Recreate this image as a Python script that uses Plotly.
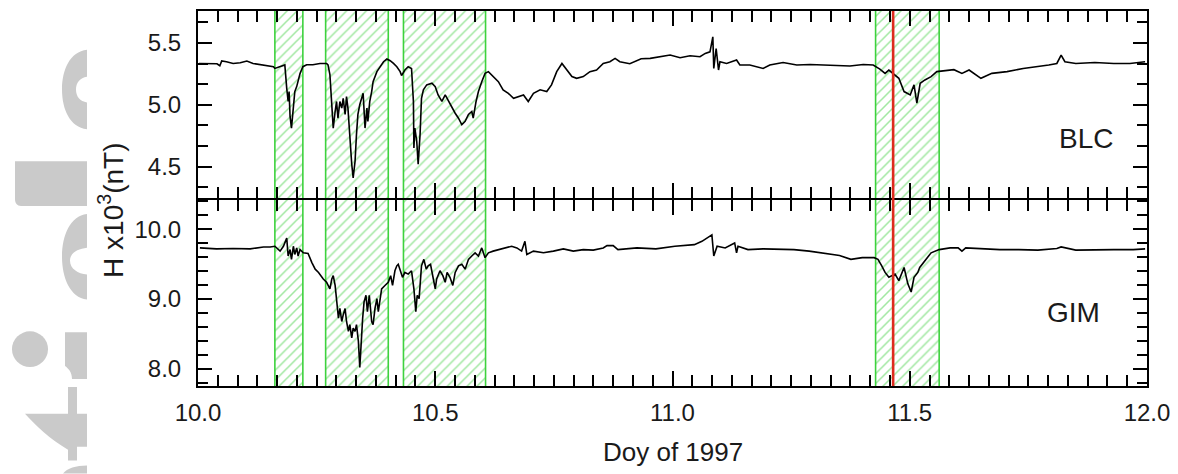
import re
import plotly.graph_objects as go

# ---------------- data ----------------
blc_day = [10.002, 10.025, 10.040, 10.046, 10.050, 10.060, 10.074, 10.089, 10.103, 10.116,
           10.131, 10.145, 10.159, 10.162, 10.173, 10.183, 10.187, 10.190, 10.192, 10.194,
           10.197, 10.200, 10.204, 10.208, 10.211, 10.215, 10.221, 10.229, 10.242, 10.257,
           10.271, 10.274, 10.278, 10.282, 10.285, 10.289, 10.292, 10.295, 10.299, 10.303,
           10.306, 10.310, 10.313, 10.316, 10.320, 10.324, 10.327, 10.331, 10.334, 10.337,
           10.341, 10.345, 10.348, 10.352, 10.356, 10.358, 10.362, 10.366, 10.369, 10.377,
           10.384, 10.391, 10.398, 10.405, 10.412, 10.419, 10.426, 10.429, 10.436, 10.443,
           10.450, 10.454, 10.455, 10.457, 10.461, 10.464, 10.468, 10.471, 10.475, 10.482,
           10.493, 10.500, 10.506, 10.514, 10.521, 10.528, 10.535, 10.542, 10.549, 10.556,
           10.563, 10.570, 10.577, 10.580, 10.586, 10.591, 10.598, 10.605, 10.612, 10.622,
           10.633, 10.643, 10.654, 10.665, 10.675, 10.686, 10.696, 10.707, 10.721, 10.735,
           10.745, 10.756, 10.767, 10.777, 10.788, 10.798, 10.812, 10.826, 10.840, 10.854,
           10.868, 10.879, 10.889, 10.910, 10.934, 10.953, 10.974, 10.995, 11.016, 11.037,
           11.058, 11.069, 11.079, 11.085, 11.087, 11.092, 11.097, 11.100, 11.114, 11.135,
           11.142, 11.163, 11.191, 11.205, 11.233, 11.262, 11.290, 11.317, 11.346, 11.374,
           11.402, 11.423, 11.437, 11.448, 11.456, 11.465, 11.477, 11.488, 11.501, 11.509,
           11.515, 11.522, 11.532, 11.545, 11.557, 11.593, 11.610, 11.625, 11.650, 11.673,
           11.705, 11.739, 11.770, 11.793, 11.810, 11.819, 11.827, 11.850, 11.890, 11.930,
           11.964, 11.996]
blc_h = [5.334, 5.334, 5.332, 5.316, 5.354, 5.348, 5.334, 5.340, 5.354, 5.334,
         5.326, 5.316, 5.308, 5.294, 5.308, 5.322, 5.133, 5.027, 5.107, 4.906,
         4.812, 4.946, 5.107, 5.147, 5.187, 5.252, 5.308, 5.324, 5.324, 5.334,
         5.334, 5.322, 5.244, 5.027, 4.812, 4.946, 5.027, 4.892, 5.027, 4.973,
         5.053, 4.922, 5.067, 4.973, 4.731, 4.520, 4.410, 4.544, 4.761, 4.922,
         5.002, 5.053, 5.093, 4.812, 4.973, 4.866, 5.027, 5.107, 5.187, 5.268,
         5.308, 5.348, 5.370, 5.356, 5.334, 5.308, 5.268, 5.236, 5.281, 5.308,
         5.294, 5.027, 4.651, 4.812, 4.705, 4.520, 4.761, 5.053, 5.121, 5.161,
         5.174, 5.147, 5.080, 5.027, 5.080, 5.027, 4.973, 4.932, 4.892, 4.839,
         4.866, 4.922, 4.946, 4.892, 5.027, 5.107, 5.187, 5.254, 5.268, 5.228,
         5.187, 5.121, 5.093, 5.053, 5.067, 5.080, 5.027, 5.093, 5.121, 5.107,
         5.161, 5.268, 5.334, 5.281, 5.228, 5.214, 5.228, 5.268, 5.281, 5.334,
         5.348, 5.375, 5.348, 5.332, 5.372, 5.375, 5.388, 5.402, 5.380, 5.396,
         5.388, 5.415, 5.428, 5.549, 5.294, 5.455, 5.281, 5.348, 5.334, 5.362,
         5.322, 5.322, 5.294, 5.322, 5.342, 5.322, 5.326, 5.322, 5.322, 5.314,
         5.326, 5.322, 5.289, 5.254, 5.281, 5.254, 5.214, 5.107, 5.080, 5.161,
         5.013, 5.174, 5.201, 5.228, 5.268, 5.284, 5.254, 5.281, 5.214, 5.254,
         5.268, 5.294, 5.308, 5.322, 5.334, 5.402, 5.348, 5.334, 5.342, 5.334,
         5.334, 5.348]

gim_day = [10.004, 10.039, 10.074, 10.110, 10.138, 10.152, 10.162, 10.173, 10.180, 10.187,
           10.190, 10.194, 10.197, 10.201, 10.204, 10.208, 10.211, 10.215, 10.222, 10.232,
           10.240, 10.247, 10.254, 10.264, 10.271, 10.278, 10.282, 10.285, 10.289, 10.292,
           10.296, 10.299, 10.303, 10.306, 10.310, 10.313, 10.317, 10.320, 10.324, 10.327,
           10.331, 10.334, 10.338, 10.341, 10.344, 10.347, 10.350, 10.354, 10.357, 10.361,
           10.366, 10.369, 10.373, 10.377, 10.380, 10.384, 10.387, 10.394, 10.401, 10.406,
           10.410, 10.415, 10.419, 10.422, 10.426, 10.431, 10.436, 10.443, 10.450, 10.455,
           10.459, 10.462, 10.466, 10.471, 10.476, 10.481, 10.485, 10.490, 10.496, 10.500,
           10.503, 10.510, 10.516, 10.521, 10.525, 10.531, 10.537, 10.542, 10.549, 10.556,
           10.563, 10.570, 10.577, 10.584, 10.591, 10.598, 10.605, 10.612, 10.622, 10.636,
           10.651, 10.661, 10.672, 10.682, 10.689, 10.693, 10.707, 10.728, 10.749, 10.770,
           10.791, 10.812, 10.833, 10.854, 10.862, 10.875, 10.885, 10.925, 10.965, 11.005,
           11.046, 11.062, 11.083, 11.087, 11.094, 11.111, 11.131, 11.135, 11.138, 11.159,
           11.191, 11.223, 11.256, 11.288, 11.319, 11.352, 11.376, 11.400, 11.425, 11.433,
           11.441, 11.448, 11.456, 11.469, 11.477, 11.488, 11.496, 11.503, 11.509, 11.517,
           11.521, 11.529, 11.545, 11.562, 11.585, 11.602, 11.610, 11.618, 11.650, 11.690,
           11.730, 11.770, 11.810, 11.819, 11.850, 11.890, 11.930, 11.971, 11.996]
gim_h = [9.732, 9.718, 9.723, 9.718, 9.746, 9.745, 9.756, 9.686, 9.756, 9.873,
         9.616, 9.708, 9.568, 9.756, 9.638, 9.732, 9.616, 9.708, 9.662, 9.652,
         9.521, 9.427, 9.380, 9.286, 9.239, 9.145, 9.286, 9.334, 9.193, 9.004,
         8.723, 8.863, 8.676, 8.770, 8.863, 8.676, 8.535, 8.630, 8.441, 8.582,
         8.535, 8.630, 8.394, 8.018, 8.441, 8.723, 8.958, 9.052, 8.817, 9.052,
         8.676, 8.630, 8.863, 9.004, 8.817, 9.052, 9.145, 9.193, 9.239, 9.334,
         9.193, 9.404, 9.475, 9.497, 9.404, 9.310, 9.380, 9.356, 9.404, 9.145,
         8.817, 9.052, 9.004, 9.475, 9.568, 9.427, 9.475, 9.497, 9.286, 9.145,
         9.286, 9.404, 9.334, 9.239, 9.380, 9.310, 9.193, 9.380, 9.475, 9.497,
         9.427, 9.568, 9.616, 9.662, 9.616, 9.732, 9.592, 9.662, 9.686, 9.708,
         9.732, 9.756, 9.732, 9.686, 9.827, 9.638, 9.686, 9.662, 9.686, 9.718,
         9.686, 9.708, 9.700, 9.732, 9.765, 9.765, 9.708, 9.732, 9.718, 9.756,
         9.779, 9.827, 9.920, 9.616, 9.756, 9.732, 9.803, 9.662, 9.756, 9.708,
         9.718, 9.708, 9.708, 9.686, 9.652, 9.624, 9.568, 9.592, 9.592, 9.568,
         9.475, 9.380, 9.310, 9.356, 9.263, 9.451, 9.216, 9.099, 9.310, 9.380,
         9.451, 9.521, 9.662, 9.708, 9.732, 9.732, 9.686, 9.732, 9.718, 9.708,
         9.708, 9.700, 9.723, 9.746, 9.700, 9.708, 9.708, 9.708, 9.718]

window_start = [10.162, 10.269, 10.433, 11.428]
window_end = [10.221, 10.401, 10.606, 11.562]
onset_day = 11.465

x_range = [10.0, 12.0]
blc_range = [4.247, 5.758]
gim_range = [7.75, 10.42]
panel_names = ["BLC", "GIM"]

# ---------------- layout geometry ----------------
# the page body has an 8 px margin, so the figure is shrunk by it
OFF = 8
W, H = 1178 - OFF, 474 - OFF
ML, MR, MT, MB = 198 - OFF, 31, 9 - OFF, 88
PW, PH = W - ML - MR, H - MT - MB
SPLIT = (386 - 197) / PH
GAP = 2 / PH  # lets the two divider lines coincide

FONT = "Liberation Sans, Arial, sans-serif"
GREEN = "#3dd23d"
HATCH = "#44d044"


def xp(px):
    """page pixel x -> paper coordinate"""
    return (px - OFF - ML) / PW


def yp(py):
    """page pixel y -> paper coordinate"""
    return (H - MB - (py - OFF)) / PH


def path_px(spec):
    def conv(m):
        x, y = float(m.group(1)), float(m.group(2))
        return f"{xp(x):.5f},{yp(y):.5f}"
    return re.sub(r"(-?[\d.]+),(-?[\d.]+)", conv, spec)


fig = go.Figure()

# hatched event windows (fill, then vertical green edges)
for s, e in zip(window_start, window_end):
    for xa, ya, yr in (("x", "y", blc_range), ("x2", "y2", gim_range)):
        fig.add_trace(go.Scatter(
            x=[s, e, e, s, s], y=[yr[0], yr[0], yr[1], yr[1], yr[0]],
            mode="lines", fill="toself", fillcolor="rgba(255,255,255,0)",
            fillpattern=dict(shape="/", fgcolor=HATCH, bgcolor="rgba(255,255,255,0)",
                             size=7, solidity=0.22),
            line=dict(width=0),
            hoverinfo="skip", showlegend=False, xaxis=xa, yaxis=ya))
        fig.add_trace(go.Scatter(
            x=[s, s, None, e, e], y=[yr[0], yr[1], None, yr[0], yr[1]],
            mode="lines", line=dict(color=GREEN, width=1.6),
            hoverinfo="skip", showlegend=False, xaxis=xa, yaxis=ya))

fig.add_trace(go.Scatter(x=blc_day, y=blc_h, mode="lines",
                         line=dict(color="black", width=1.6),
                         showlegend=False, xaxis="x", yaxis="y"))
fig.add_trace(go.Scatter(x=gim_day, y=gim_h, mode="lines",
                         line=dict(color="black", width=1.6),
                         showlegend=False, xaxis="x2", yaxis="y2"))

# onset line
fig.add_shape(type="line", xref="x2", yref="paper", x0=onset_day, x1=onset_day,
              y0=0, y1=1, line=dict(color="#de2a1e", width=2.6), layer="above")

# grey watermark fragments on the left edge
WM = "#cacaca"
wm_paths = [
    "M 87,48 C 70,50 62,68 62,88 C 62,108 70,126 87,128 L 87,101 C 80,100 76,95 76,88 C 76,81 80,76 87,75 Z",
    "M 15,160 L 87,160 L 87,205 L 21,205 C 17,205 15,202 15,198 Z",
    "M 87,213 C 70,215 62,235 62,256 C 62,277 70,297 87,299 L 87,274 C 78,273 70,268 70,260 C 70,252 78,248 87,247 Z",
    "M 65,332 L 87,332 L 87,379 L 72,379 C 72,372 68,368 65,366 Z",
    "M 68,387 L 77,387 L 77,414 L 87,414 L 87,447 L 77,447 L 77,461 L 68,461 L 68,450 C 50,440 35,425 25,414 L 68,414 Z",
    "M 87,466 C 76,466 67,469 63,474 L 87,474 Z",
]
for p in wm_paths:
    fig.add_shape(type="path", xref="paper", yref="paper", path=path_px(p),
                  fillcolor=WM, line=dict(width=0), layer="below")
fig.add_shape(type="circle", xref="paper", yref="paper",
              x0=xp(12), x1=xp(48), y0=yp(331), y1=yp(367),
              fillcolor=WM, line=dict(width=0), layer="below")

axis_common = dict(showline=True, linecolor="black", linewidth=2, mirror="allticks",
                   ticks="inside", tickcolor="black", tickwidth=1.5, showgrid=False,
                   zeroline=False, tickfont=dict(family=FONT, size=24, color="#1a1a1a"))

fig.update_layout(
    width=W, height=H, margin=dict(l=ML, r=MR, t=MT, b=MB),
    paper_bgcolor="white", plot_bgcolor="white",
    xaxis=dict(axis_common, domain=[0, 1], anchor="y", range=x_range, tick0=10, dtick=0.5,
               ticklen=15, showticklabels=False,
               minor=dict(dtick=1 / 24, tick0=10, ticklen=11, tickwidth=1.5,
                          tickcolor="black", ticks="inside")),
    xaxis2=dict(axis_common, domain=[0, 1], anchor="y2", range=x_range, tick0=10, dtick=0.5,
                ticklen=15, tickformat=".1f", ticklabelstandoff=4,
                minor=dict(dtick=1 / 24, tick0=10, ticklen=11, tickwidth=1.5,
                           tickcolor="black", ticks="inside")),
    yaxis=dict(axis_common, domain=[SPLIT, 1], anchor="x", range=blc_range, tick0=4.5,
               dtick=0.5, ticklen=14, tickformat=".1f", ticklabelstandoff=10,
               minor=dict(dtick=0.5 / 3, tick0=4.5, ticklen=10, tickwidth=1.5,
                          tickcolor="black", ticks="inside")),
    yaxis2=dict(axis_common, domain=[0, SPLIT - GAP], anchor="x2", range=gim_range, tick0=8,
                dtick=1.0, ticklen=14, tickformat=".1f", ticklabelstandoff=10,
                minor=dict(dtick=0.2, tick0=8, ticklen=10, tickwidth=1.5,
                           tickcolor="black", ticks="inside")),
    showlegend=False,
)

ann_font = dict(family=FONT, color="#1a1a1a")
fig.add_annotation(text=panel_names[0], xref="paper", yref="paper", x=xp(1086), y=yp(137),
                   showarrow=False, font=dict(ann_font, size=28), xanchor="center", yanchor="middle")
fig.add_annotation(text=panel_names[1], xref="paper", yref="paper", x=xp(1073), y=yp(312),
                   showarrow=False, font=dict(ann_font, size=28), xanchor="center", yanchor="middle")
fig.add_annotation(text="H x10<sup>3</sup>(nT)", xref="paper", yref="paper", x=xp(111), y=yp(210),
                   showarrow=False, textangle=-90, font=dict(ann_font, size=28),
                   xanchor="center", yanchor="middle")
fig.add_annotation(text="Doy of 1997", xref="paper", yref="paper", x=0.5, y=yp(452),
                   showarrow=False, font=dict(ann_font, size=26), xanchor="center", yanchor="middle")

fig.write_html("out.html")
